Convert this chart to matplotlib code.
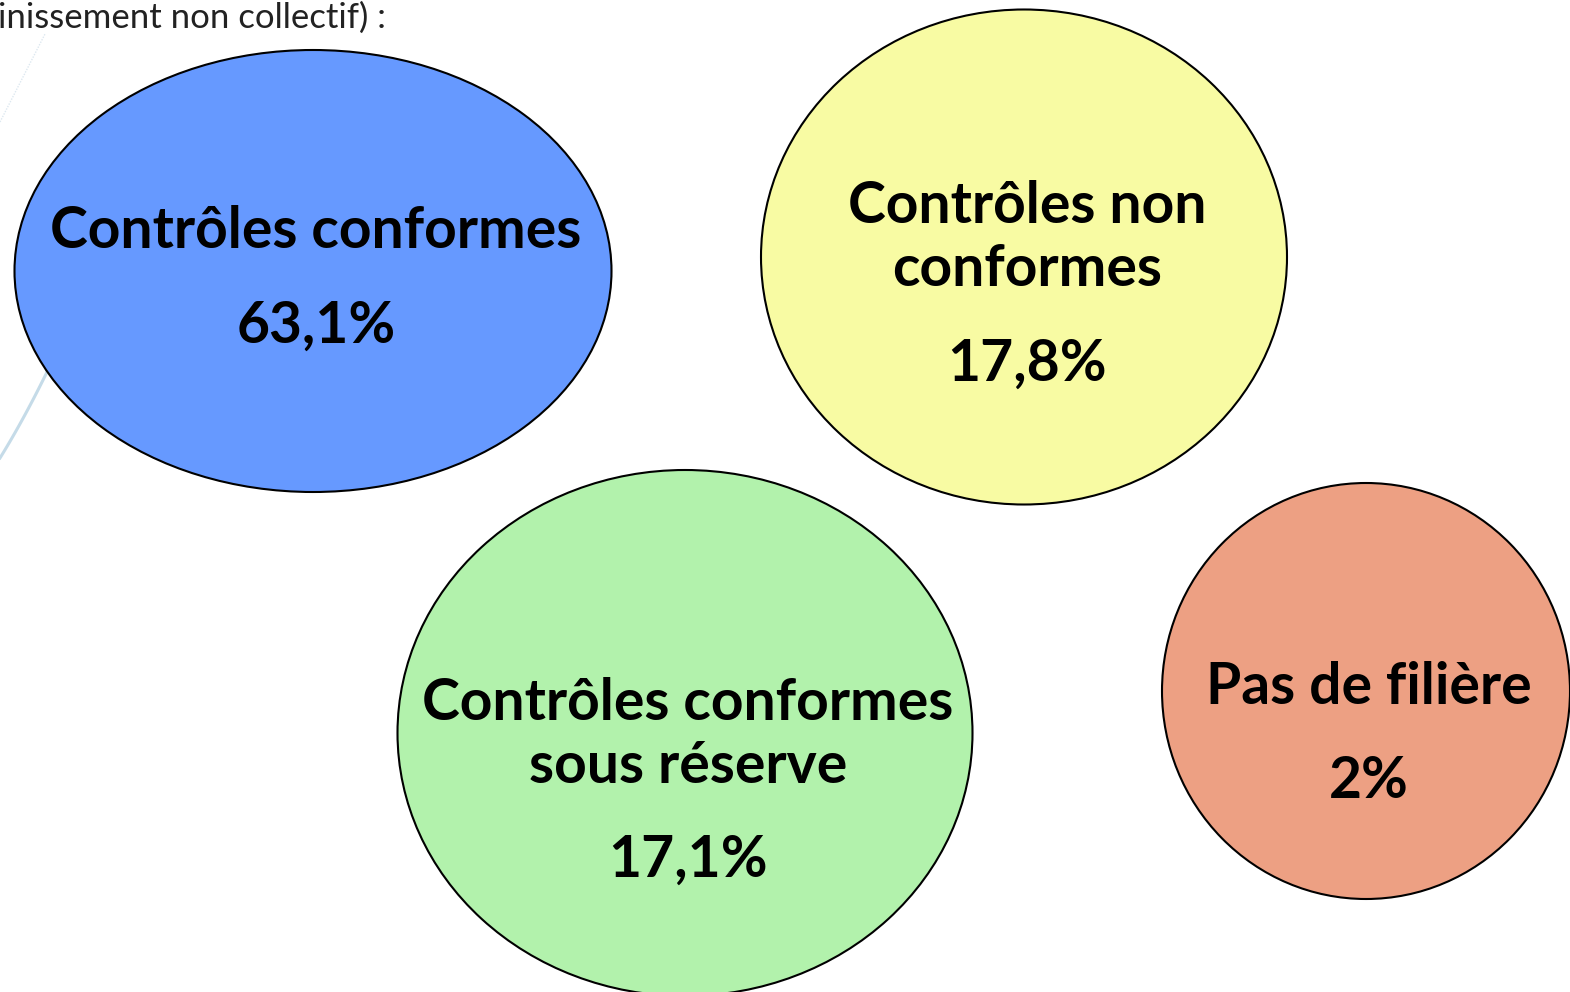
import matplotlib
matplotlib.use("Agg")
import matplotlib.pyplot as plt
from matplotlib.patches import Ellipse
import numpy as np

# ---- data ----
categories = ["Contrôles conformes", "Contrôles non\nconformes",
              "Contrôles conformes\nsous réserve", "Pas de filière"]
values = ["63,1%", "17,8%", "17,1%", "2%"]
colors = ["#6699FF", "#F8FBA3", "#B2F2AC", "#EDA083"]
header = "inissement non collectif) :"

# ---- layout (pixel coordinates) ----
centers = [(313, 271), (1024, 257), (685, 733), (1366, 691)]
sizes = [(597, 442), (526, 495), (575, 526), (408, 416)]
label_y = [232, 238, 735, 688]
value_y = [326, 364, 860, 781]

W, H = 1570, 992
fig = plt.figure(figsize=(W / 100, H / 100), dpi=100)
ax = fig.add_axes([0, 0, 1, 1])
ax.set_xlim(0, W)
ax.set_ylim(H, 0)
ax.axis("off")

FONT = "Lato"

# decorative faint lines
t = np.linspace(0, 1, 50)
ax.plot(0 + 47 * t, 458 - 86 * t + 10 * t * (1 - t), color="#C5DBE8", lw=2.2, zorder=0)
ax.plot(0 + 45 * t, 122 - 88 * t, color="#DDE8F0", lw=1, ls=(0, (1, 1)), zorder=0)

for (cx, cy), (w, h), col in zip(centers, sizes, colors):
    ax.add_patch(Ellipse((cx, cy), w, h, facecolor=col, edgecolor="black", lw=1.5, zorder=2))

for (cx, cy), cat, val, ly, vy in zip(centers, categories, values, label_y, value_y):
    ax.text(cx + 3, ly, cat, ha="center", va="center", fontsize=41, fontweight="bold",
            family=FONT, linespacing=1.22, zorder=3)
    ax.text(cx + 3, vy, val, ha="center", va="center", fontsize=41, fontweight="bold",
            family=FONT, zorder=3)

ax.text(-2, 18, header, ha="left", va="center", fontsize=25, color="#222222", family=FONT)

fig.savefig("out.png", dpi=100)
